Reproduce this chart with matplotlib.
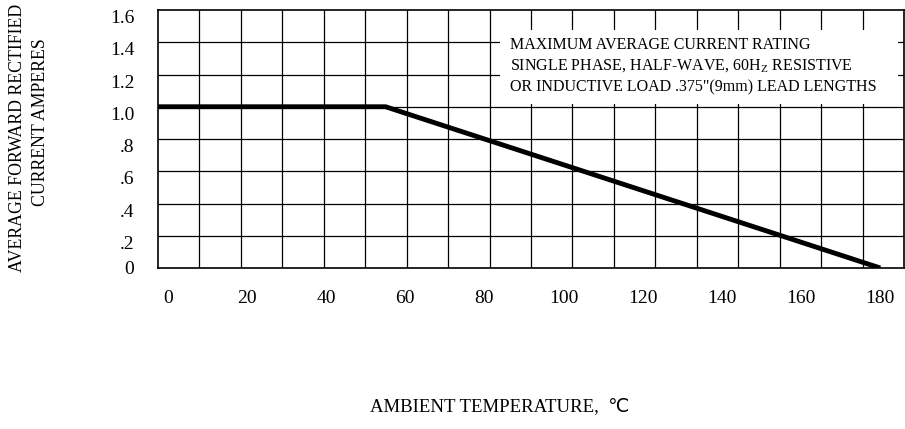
import matplotlib.pyplot as plt
import numpy as np

# derating curve
temp = [-2.5, 55, 180]
current = [1.0, 1.0, 0.0]

xticks = [0, 20, 40, 60, 80, 100, 120, 140, 160, 180]
yticks = [0, 0.2, 0.4, 0.6, 0.8, 1.0, 1.2, 1.4, 1.6]
ylabels = ['0', '.2', '.4', '.6', '.8', '1.0', '1.2', '1.4', '1.6']

note = ['MAXIMUM AVERAGE CURRENT RATING',
        'SINGLE PHASE, HALF-WAVE, 60H$_\\mathrm{Z}$ RESISTIVE',
        'OR INDUCTIVE LOAD .375"(9mm) LEAD LENGTHS']

plt.rcParams['font.family'] = ['Liberation Serif', 'DejaVu Sans']
plt.rcParams['mathtext.fontset'] = 'custom'
plt.rcParams['mathtext.rm'] = 'Liberation Serif'

fig = plt.figure(figsize=(9.05, 4.29), dpi=100)
ax = fig.add_axes([158/905, 1 - 268/429, 746/905, 258/429])

xmin, xmax = -2.5, 186
ax.set_xlim(xmin, xmax)
ax.set_ylim(0, 1.6)

# grid is 18 columns, not tied to the labels
for gx in np.linspace(xmin, xmax, 19)[1:-1]:
    ax.axvline(gx, color='black', lw=0.9, zorder=1)
for gy in yticks[1:-1]:
    ax.axhline(gy, color='black', lw=0.9, zorder=1)

# note box blanks the grid behind it
ax.add_patch(plt.Rectangle((500, 325), 398, 74, transform=None, facecolor='white',
                           edgecolor='none', zorder=2))
for i, line in enumerate(note):
    fig.text(510/905, 1 - (45 + 21*i)/429, line, fontsize=11.5, va='center', ha='left', zorder=5)

ax.plot(temp, current, color='black', lw=3.5, solid_capstyle='butt', zorder=3)

for s in ax.spines.values():
    s.set_linewidth(1.2)

ax.set_xticks(xticks)
ax.set_xticklabels([str(t) for t in xticks], fontsize=14)
ax.set_yticks(yticks)
ax.set_yticklabels(ylabels, fontsize=14)
ax.tick_params(length=0)
ax.tick_params(axis='x', pad=16)
ax.tick_params(axis='y', pad=17)
for lab in ax.get_yticklabels():
    if lab.get_text() != '0':
        lab.set_va('top')

fig.text(18/905, 1 - 138/429, 'AVERAGE FORWARD RECTIFIED', rotation=90, fontsize=12.8,
         ha='center', va='center')
fig.text(41/905, 1 - 122/429, 'CURRENT AMPERES', rotation=90, fontsize=12.8,
         ha='center', va='center')
fig.text(500/905, 1 - 407/429, 'AMBIENT TEMPERATURE,  \u2103', fontsize=13.5,
         ha='center', va='center')

fig.savefig('out.png', dpi=100)
